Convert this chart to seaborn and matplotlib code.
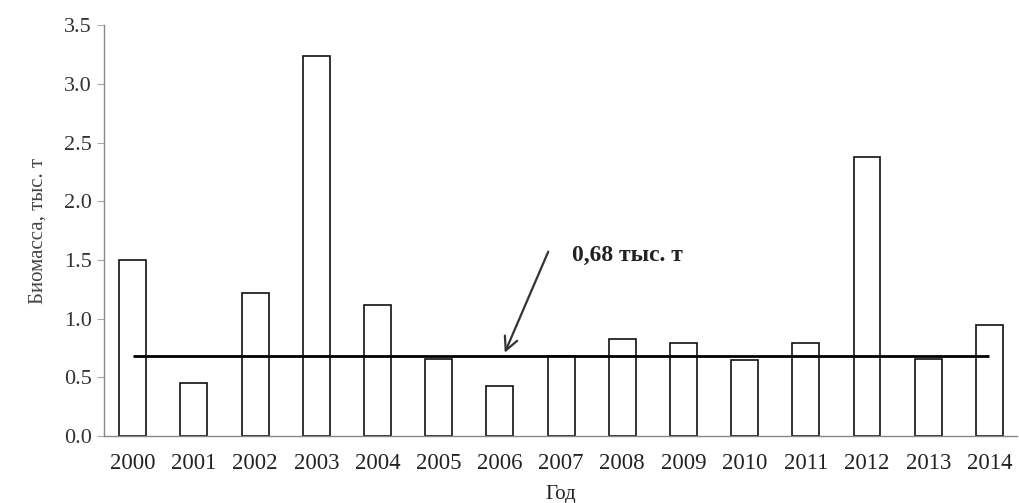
import matplotlib
matplotlib.use('Agg')
import matplotlib.pyplot as plt
import seaborn as sns
import pandas as pd

years = ['2000', '2001', '2002', '2003', '2004', '2005', '2006', '2007',
         '2008', '2009', '2010', '2011', '2012', '2013', '2014']
biomass = [1.50, 0.45, 1.22, 3.24, 1.12, 0.66, 0.43, 0.68,
           0.83, 0.79, 0.65, 0.79, 2.38, 0.66, 0.95]
mean_level = 0.68
mean_label = '0,68 тыс. т'

df = pd.DataFrame({'Год': years, 'Биомасса': biomass})

sns.set_style('white')
plt.rcParams['font.family'] = ['Liberation Serif', 'DejaVu Serif']

fig = plt.figure(figsize=(10.19, 5.03), dpi=100)
ax = fig.add_axes([0.102, 0.133, 0.896, 0.817])

sns.barplot(data=df, x='Год', y='Биомасса', color='white', edgecolor='#111111',
            linewidth=1.2, width=0.44, ax=ax)

# средний уровень
ax.hlines(mean_level, 0, len(years) - 1, color='black', linewidth=2)
ax.annotate('', xy=(6.08, mean_level + 0.03), xytext=(6.79, 1.57),
            arrowprops=dict(arrowstyle='->', color='#333333', lw=1.6,
                            shrinkA=0, shrinkB=0, mutation_scale=24))
ax.text(7.18, 1.54, mean_label, fontsize=17, fontweight='bold',
        color='#222222', va='center', ha='left')

ax.set_ylim(0, 3.5)
ax.set_xlim(-0.47, 14.45)
ax.set_yticks([0, 0.5, 1.0, 1.5, 2.0, 2.5, 3.0, 3.5])
ax.set_yticklabels(['0.0', '0.5', '1.0', '1.5', '2.0', '2.5', '3.0', '3.5'])
ax.tick_params(axis='y', labelsize=16, length=5, color='#aaaaaa', colors='#333333', direction='out', left=True)
ax.tick_params(axis='x', labelsize=16.5, length=0, colors='#222222', pad=12)
ax.set_xlabel('Год', fontsize=15, color='#222222', labelpad=8)
ax.set_ylabel('Биомасса, тыс. т', fontsize=15, color='#444444', labelpad=12)

sns.despine(ax=ax)
for s in ['left', 'bottom']:
    ax.spines[s].set_color('#888888')
    ax.spines[s].set_linewidth(1)

fig.savefig('out.png', dpi=100)
